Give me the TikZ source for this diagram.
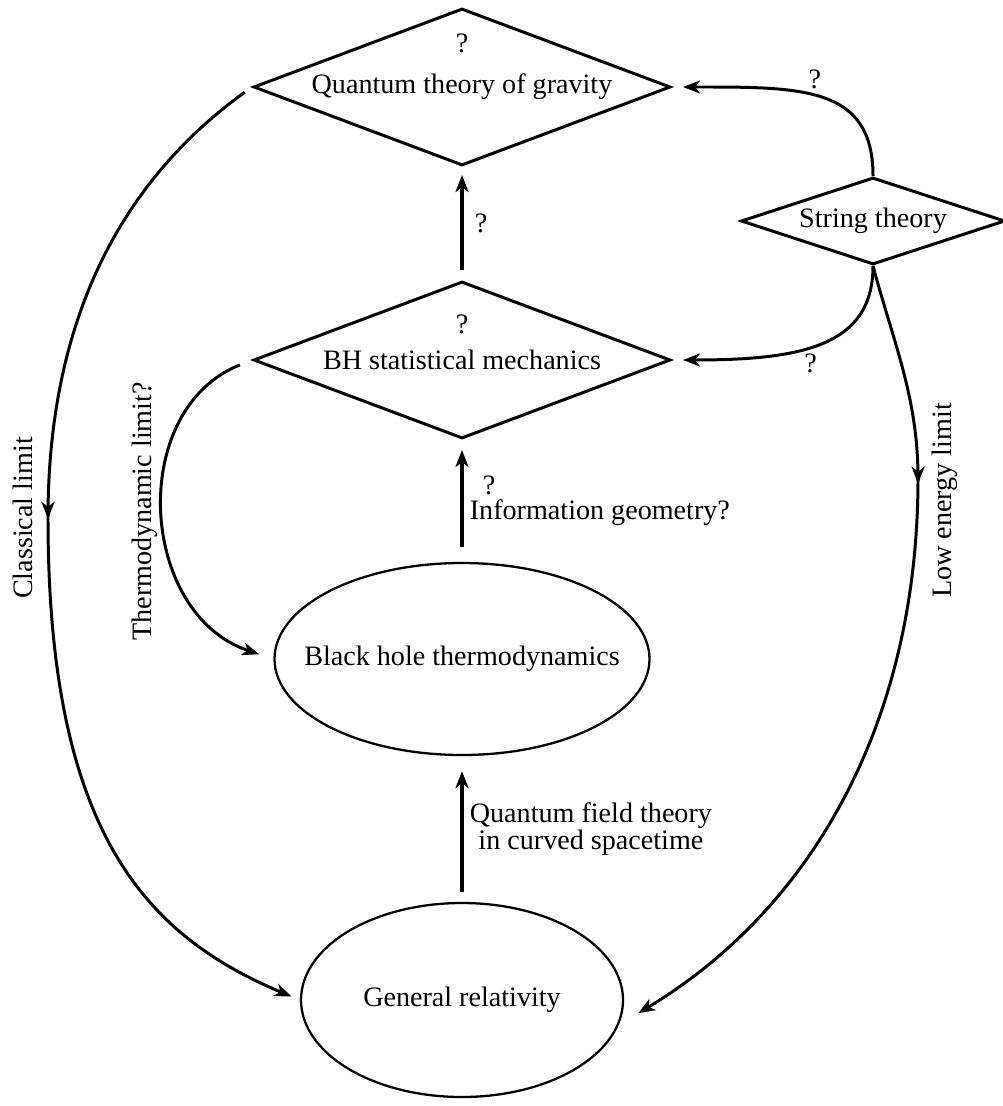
\documentclass[tikz,border=0pt]{standalone}
\usepackage{fontspec}
\setmainfont{Liberation Serif}
\usetikzlibrary{arrows.meta,positioning,shapes.geometric,decorations.markings}

\tikzset{
  qdiamond/.style={draw, diamond, line width=1.7pt, aspect=2.66, minimum width=8.34cm, minimum height=3.14cm, inner sep=1pt},
  sdiamond/.style={draw, diamond, line width=1.7pt, aspect=3.03, minimum width=5.28cm, minimum height=1.74cm, inner sep=1pt},
  oval/.style={draw, ellipse, line width=1.3pt, inner sep=0pt},
  uparrow/.style={->, line width=2.3pt},
  bendarrow/.style={->, line width=1.7pt},
  midarrow/.style={postaction={decorate}, decoration={markings, mark=at position #1 with {\arrow{>}}}},
}

\begin{document}
\begin{tikzpicture}
[>={Stealth[length=0.34cm,width=0.26cm,inset=0.1cm]},node distance=2cm,on grid,font=\fontsize{16pt}{15.5pt}\selectfont]
      \useasboundingbox (0,0) rectangle (20.04,-22.12);

      \node[qdiamond, label={[yshift=0.88cm]center:?}] (qg) at (9.24,-1.74) {Quantum theory of gravity};
      \node[qdiamond, label={[yshift=0.72cm]center:?}] (bhsm) [below=5.46cm of qg] {BH statistical mechanics};
      \node[oval, minimum width=7.5cm, minimum height=3.84cm] (bhtd) [below=5.98cm of bhsm] {\makebox[0pt]{Black hole thermodynamics}};
      \node[oval, minimum width=6.44cm, minimum height=3.88cm] (gr) [below=6.82cm of bhtd] {\makebox[0pt]{General relativity}};
      \node[sdiamond] (st) [below right=2.68cm and 8.22cm of qg] {String theory};

      \coordinate (cl) at (0.96,-10.36);
      \coordinate (le) at (18.36,-9.56);

      \path[uparrow]
      (gr) edge[shorten <=0.2cm, shorten >=0.3cm] node[right, align=center] {Quantum field theory\\in curved spacetime} (bhtd)
      (bhtd) edge[shorten <=0.3cm, shorten >=0.2cm] node[right, align=left] {\hspace{0.26cm}?\\[-1pt]Information geometry?} (bhsm)
      (bhsm) edge[shorten <=0.2cm, shorten >=0.16cm] node[right, xshift=0.1cm] {?} (qg)
      ;

      \draw[bendarrow, shorten >=0.22cm] (st.north) .. controls +(0,1.8) and +(2.6,0) .. (qg.east) node[pos=0.53, above] {?};
      \draw[bendarrow, shorten >=0.22cm] (st.south) .. controls +(0,-1.6) and +(2.6,0) .. (bhsm.east) node[pos=0.55, below] {?};
      \draw[bendarrow, shorten <=0.26cm, shorten >=0.3cm] (bhsm.west) .. controls +(-2.5,-1) and +(-2.7,0.9) .. (bhtd.west) node[pos=0.5, rotate=90, anchor=south] {Thermodynamic limit?};
      \draw[bendarrow, shorten <=0.18cm, shorten >=0.18cm, midarrow=0.46] (qg.west) .. controls +(-2.58,-1.86) and +(0,4.02) .. (cl) node[rotate=90, anchor=south, inner sep=8pt] {Classical limit} .. controls +(0,-6.26) and +(-3.1,1.3) .. (gr.west);
      \draw[bendarrow, shorten >=0.45cm, midarrow=0.256] (st.south) .. controls +(-75:1.6) and +(0,1.6) .. (le) .. controls +(0,-5) and +(31:4.4) .. (gr.-9) node[pos=0.03, rotate=90, anchor=north, inner sep=7pt] {Low energy limit};
    
\end{tikzpicture}
\end{document}
